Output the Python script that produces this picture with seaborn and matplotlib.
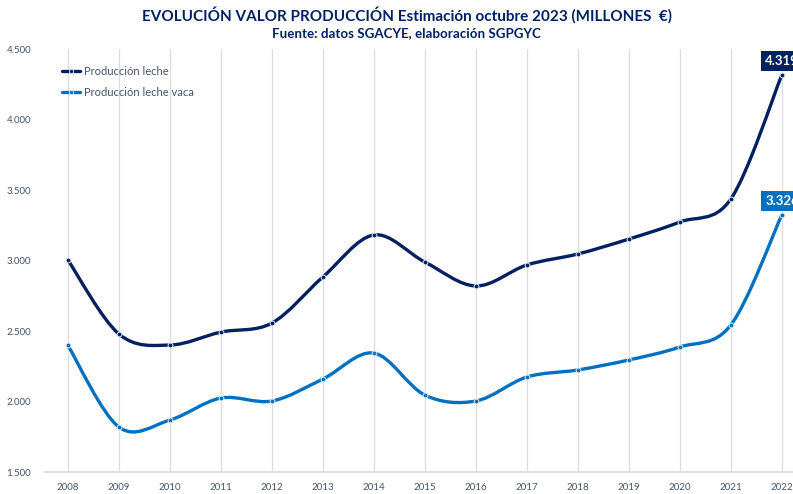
import numpy as np
import pandas as pd
import seaborn as sns
from matplotlib import pyplot as plt
from matplotlib.path import Path
from matplotlib.patches import PathPatch
from matplotlib.lines import Line2D

years = [2008, 2009, 2010, 2011, 2012, 2013, 2014, 2015,
         2016, 2017, 2018, 2019, 2020, 2021, 2022]
leche = [3006, 2481, 2403, 2495, 2559, 2886, 3184, 2992,
         2822, 2971, 3049, 3155, 3276, 3439, 4319]
leche_vaca = [2400, 1821, 1871, 2027, 2006, 2162, 2346, 2048,
              2006, 2176, 2226, 2297, 2389, 2545, 3326]
y_ticks = [1500, 2000, 2500, 3000, 3500, 4000, 4500]

DARK = '#002060'
LIGHT = '#0070C0'
TXT = '#44546A'


def smooth_path(xs, ys):
    # bezier segments through the data points (like excel smoothed lines)
    pts = np.column_stack([xs, ys]).astype(float)
    n = len(pts)
    verts = [pts[0]]
    codes = [Path.MOVETO]
    for i in range(n - 1):
        p0 = pts[max(i - 1, 0)]
        p1 = pts[i]
        p2 = pts[i + 1]
        p3 = pts[min(i + 2, n - 1)]
        c1 = p1 + (p2 - p0) / 6
        c2 = p2 - (p3 - p1) / 6
        verts += [c1, c2, p2]
        codes += [Path.CURVE4] * 3
    return Path(verts, codes)


df = pd.DataFrame({'Año': years, 'Producción leche': leche,
                   'Producción leche vaca': leche_vaca})

sns.set_style('white')
plt.rcParams['font.family'] = ['Lato', 'DejaVu Sans']

fig = plt.figure(figsize=(7.93, 4.94), dpi=100)
ax = fig.add_axes([45 / 793, 0.0439, 748 / 793, 0.8559])

for col, color in [('Producción leche', DARK), ('Producción leche vaca', LIGHT)]:
    ax.add_patch(PathPatch(smooth_path(df['Año'], df[col]), facecolor='none',
                           edgecolor=color, lw=2.4, capstyle='round', zorder=3))
    sns.scatterplot(data=df, x='Año', y=col, ax=ax, color=color, s=12,
                    edgecolor='#e4e8f0', linewidth=0.7, zorder=4)

# vertical grid lines at each year
for yr in years:
    ax.axvline(yr, color='#d9dbe6', lw=0.9, zorder=1)

ax.set_xlim(2007.55, 2022.22)
ax.set_ylim(1500, 4500)
ax.set_xticks(years)
ax.set_yticks(y_ticks)
ax.set_yticklabels([f'{v:,}'.replace(',', '.') for v in y_ticks])
ax.tick_params(axis='both', labelsize=7, colors=TXT, length=0)
ax.tick_params(axis='x', pad=8)
ax.tick_params(axis='y', pad=10)
ax.set_xlabel('')
ax.set_ylabel('')
for side in ['top', 'right', 'left']:
    ax.spines[side].set_visible(False)
ax.spines['bottom'].set_color('#d9d9d9')
ax.spines['bottom'].set_linewidth(1.2)

# end value labels (they run off the right edge as in the original)
for vals, color in [(leche, DARK), (leche_vaca, LIGHT)]:
    ax.annotate(f'{vals[-1]:,}'.replace(',', '.'), xy=(years[-1], vals[-1]),
                xytext=(-12, 6), textcoords='offset points', ha='left',
                va='bottom', color='white', fontsize=9.5, fontweight='bold',
                bbox=dict(boxstyle='square,pad=0.3', fc=color, ec='none'),
                annotation_clip=False, zorder=5)

handles = [Line2D([0], [0], color=DARK, lw=2.4, marker='o', markersize=3,
                  markeredgecolor='#e4e8f0', markeredgewidth=0.6),
           Line2D([0], [0], color=LIGHT, lw=2.4, marker='o', markersize=3,
                  markeredgecolor='#e4e8f0', markeredgewidth=0.6)]
leg = ax.legend(handles, ['Producción leche', 'Producción leche vaca'],
                loc='upper left', bbox_to_anchor=(0.01, 0.985), frameon=False,
                fontsize=8, handlelength=1.6, handletextpad=0.3,
                labelspacing=0.9)
for t in leg.get_texts():
    t.set_color(TXT)

fig.text(0.513, 0.97, 'EVOLUCIÓN VALOR PRODUCCIÓN Estimación octubre 2023 (MILLONES  €)',
         ha='center', va='center', fontsize=11, fontweight='bold', color=DARK)
fig.text(0.513, 0.934, 'Fuente: datos SGACYE, elaboración SGPGYC',
         ha='center', va='center', fontsize=9.6, fontweight='bold', color=DARK)

fig.savefig('out.png', dpi=100)
